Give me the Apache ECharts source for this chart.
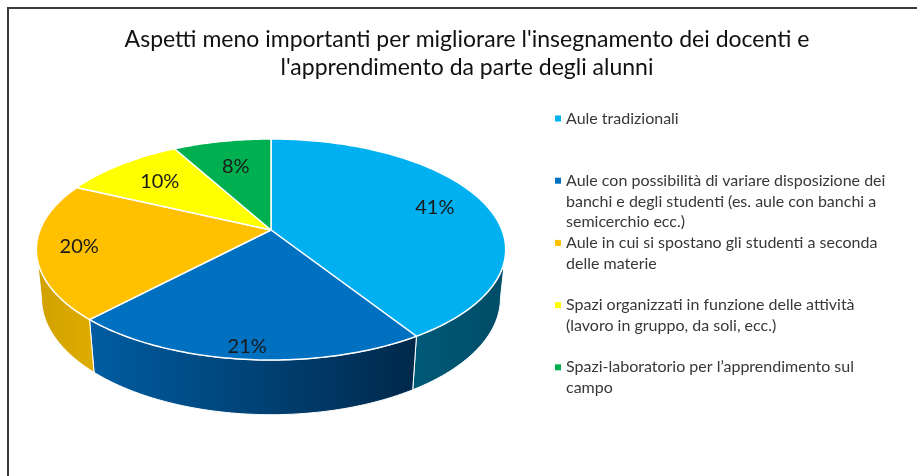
<!DOCTYPE html>
<html><head><meta charset="utf-8">
<script src="https://cdn.jsdelivr.net/npm/echarts@6/dist/echarts.min.js"></script>
<style>html,body{margin:0;padding:0;background:#fff}#c{width:917px;height:476px}</style>
</head><body><div id="c"></div>
<script>
const titleText = "Aspetti meno importanti per migliorare l'insegnamento dei docenti e\nl'apprendimento da parte degli alunni";
const categories = [
  "Aule tradizionali",
  "Aule con possibilità di variare disposizione dei banchi e degli studenti (es. aule con banchi a semicerchio ecc.)",
  "Aule in cui si spostano gli studenti a seconda delle materie",
  "Spazi organizzati in funzione delle attività (lavoro in gruppo, da soli, ecc.)",
  "Spazi-laboratorio per l’apprendimento sul campo"
];
const values = [41, 21, 20, 10, 8];
const legendLines = [
  ["Aule tradizionali"],
  ["Aule con possibilità di variare disposizione dei", "banchi e degli studenti (es. aule con banchi a", "semicerchio ecc.)"],
  ["Aule in cui si spostano gli studenti a seconda", "delle materie"],
  ["Spazi organizzati in funzione delle attività", "(lavoro in gruppo, da soli, ecc.)"],
  ["Spazi-laboratorio per l’apprendimento sul", "campo"]
];
const colors = ['#00B0F0', '#0070C0', '#FFC000', '#FFFF00', '#00B050'];
const sideColors = [['#005A78', '#004C66'], ['#005DA2', '#00284A'], ['#D0A000', '#DEAD00'], ['#C8C800', '#C8C800'], ['#008A3E', '#008A3E']];

// 3D perspective projection parameters
const CX = 271, CY = 230, A = 231, RD = 0.199, SINA = 0.4636, COSA = Math.sqrt(1 - SINA * SINA), H = 0.24;
function proj(phiDeg, rho, y) {
  const p = phiDeg * Math.PI / 180;
  const X = rho * Math.sin(p), Z = rho * Math.cos(p);
  const depth = 1 + RD * (Z * COSA - y * SINA);
  return [CX + A * X / depth, CY - A * (Z * SINA + y * COSA) / depth];
}
const total = values.reduce((a, b) => a + b, 0);
const starts = [];
{ let acc = 0; values.forEach(v => { starts.push(acc / total * 360); acc += v; }); }
const silA = Math.acos(-RD * COSA) * 180 / Math.PI, silB = 360 - silA;

function arc(a0, a1, y) {
  const pts = [];
  const n = Math.max(2, Math.ceil((a1 - a0) / 1));
  for (let k = 0; k <= n; k++) pts.push(proj(a0 + (a1 - a0) * k / n, 1, y));
  return pts;
}

function renderSlice(i) {
  return function (params, api) {
    const v = api.value(0);
    const a0 = starts[i], a1 = a0 + v / total * 360;
    const children = [];
    const s0 = Math.max(a0, silA), s1 = Math.min(a1, silB);
    if (s1 > s0) {
      const pts = arc(s0, s1, 0).concat(arc(s0, s1, -H).reverse());
      children.push({
        type: 'polygon', z2: 0, shape: { points: pts },
        style: {
          fill: new echarts.graphic.LinearGradient(0, 0, 1, 0, [
            { offset: 0, color: sideColors[i][0] }, { offset: 1, color: sideColors[i][1] }]),
          stroke: '#ffffff', lineWidth: 1
        }
      });
    }
    const top = [proj(0, 0, 0)].concat(arc(a0, a1, 0));
    children.push({
      type: 'polygon', z2: 10, shape: { points: top },
      style: { fill: api.visual('color'), stroke: '#ffffff', lineWidth: 1.5, lineJoin: 'round' }
    });
    const mid = (a0 + a1) / 2;
    const rho = 0.8 - 0.12 * Math.cos(mid * Math.PI / 180);
    const lp = proj(mid, rho, 0);
    children.push({
      type: 'text', z2: 20,
      style: {
        text: Math.round(v / total * 100) + '%', x: lp[0], y: lp[1],
        align: 'center', verticalAlign: 'middle', fill: '#1a1a1a',
        font: '20px Lato'
      }
    });
    return { type: 'group', children };
  };
}

const LH = 20.8;
const chart = echarts.init(document.getElementById('c'), null, { renderer: 'canvas' });
chart.setOption({
  animation: false,
  backgroundColor: '#ffffff',
  graphic: [{
    type: 'rect', shape: { x: 8, y: 8, width: 1000, height: 1000 },
    style: { fill: 'none', stroke: '#3a3a3a', lineWidth: 2 }, silent: true
  }, {
    type: 'text', x: 467, y: 54, silent: true,
    style: {
      text: titleText, align: 'center', verticalAlign: 'middle',
      font: '23px Lato', lineHeight: 28, fill: '#111111'
    }
  }],
  legend: categories.map((name, i) => {
    const n = legendLines[i].length;
    return {
      data: [name], orient: 'vertical', left: 555,
      top: 118.5 + 62.2 * i - LH / 2 - (n - 1) * LH,
      padding: 0, icon: 'rect', itemWidth: 6, itemHeight: 6, selectedMode: false,
      formatter: () => '\n'.repeat(n - 1) + legendLines[i].join('\n'),
      textStyle: { fontFamily: 'Lato', fontSize: 16, lineHeight: LH, color: '#383838' }
    };
  }),
  series: categories.map((name, i) => ({
    type: 'custom', name, coordinateSystem: 'none', silent: true,
    itemStyle: { color: colors[i] },
    renderItem: renderSlice(i),
    data: [values[i]]
  }))
});
</script></body></html>
